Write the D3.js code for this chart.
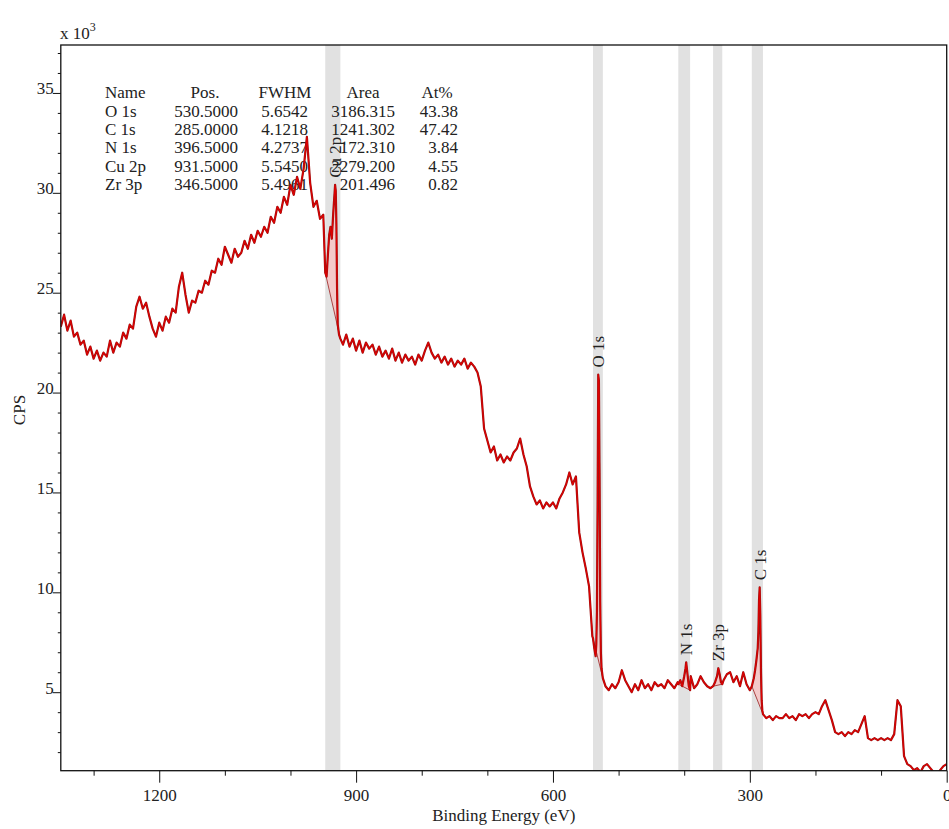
<!DOCTYPE html>
<html lang="en">
<head>
<meta charset="utf-8">
<title>XPS survey</title>
<script src="https://d3js.org/d3.v7.min.js"></script>
<style>
  body { margin: 0; background: #fff; }
  text { font-family: "Liberation Serif", "Times New Roman", serif; fill: #222; }
</style>
</head>
<body>
<script>

// survey spectrum, kCPS, every 5 eV from 1350 eV down to 0 eV
var beStart = 1350, beStep = 5;
var surveyK = [
  23.3, 23.9, 23.1, 23.6, 22.8, 23.0, 22.4, 22.6, 21.9, 22.3,   // 1350
  21.7, 22.1, 21.6, 22.0, 21.8, 22.6, 22.0, 22.5, 22.3, 23.0,   // 1300
  22.7, 23.4, 23.2, 24.3, 24.8, 24.2, 24.5, 23.8, 23.2, 22.8,   // 1250
  23.5, 23.1, 23.8, 23.5, 24.2, 24.0, 25.3, 26.0, 24.9, 24.0,   // 1200
  24.6, 24.5, 25.1, 25.0, 25.6, 25.4, 26.1, 26.0, 26.7, 26.4,   // 1150
  27.3, 26.9, 26.5, 27.2, 26.8, 27.0, 27.6, 27.2, 27.9, 27.5,   // 1100
  28.1, 27.8, 28.3, 28.0, 28.8, 28.5, 29.3, 29.0, 29.8, 29.4,   // 1050
  30.4, 29.9, 30.8, 30.2, 31.2, 32.8, 30.5, 29.3, 29.6, 28.7,   // 1000
  28.9, 25.9, 27.5, 28.8, 31.2, 22.8, 22.4, 22.9, 22.3, 22.7,   // 950
  22.1, 22.6, 22.0, 22.5, 22.2, 22.4, 21.9, 22.3, 21.8, 22.1,   // 900
  21.7, 22.2, 21.6, 22.0, 21.5, 21.9, 21.6, 21.8, 21.4, 21.9,   // 850
  21.6, 22.1, 22.5, 22.0, 21.7, 21.9, 21.5, 21.8, 21.4, 21.7,   // 800
  21.3, 21.6, 21.4, 21.7, 21.2, 21.5, 21.3, 21.0, 20.3, 18.2,   // 750
  17.6, 17.0, 17.3, 16.6, 16.9, 16.5, 16.8, 16.6, 17.0, 17.2,   // 700
  17.7, 16.9, 16.3, 15.3, 14.8, 14.4, 14.6, 14.2, 14.5, 14.3,   // 650
  14.5, 14.2, 14.7, 15.0, 15.4, 16.0, 15.4, 15.8, 13.0, 12.0,   // 600
  11.2, 10.3, 7.8, 6.9, 20.5, 6.0, 5.3, 5.1, 5.4, 5.2,          // 550
  5.5, 6.1, 5.6, 5.3, 5.0, 5.4, 5.1, 5.6, 5.2, 5.4,             // 500
  5.1, 5.5, 5.3, 5.4, 5.2, 5.6, 5.4, 5.2, 5.5, 5.3,             // 450
  5.4, 6.3, 5.8, 5.2, 5.4, 5.8, 5.5, 5.3, 5.2, 5.4,             // 400
  5.7, 6.0, 5.6, 5.9, 6.0, 5.5, 5.8, 5.3, 6.0, 5.4,             // 350
  5.1, 5.4, 5.9, 4.1, 3.8, 3.7, 3.8, 3.6, 3.8, 3.7,             // 300
  3.7, 3.9, 3.7, 3.8, 3.6, 3.9, 3.8, 3.9, 3.7, 3.9,             // 250
  4.0, 3.9, 4.3, 4.6, 4.1, 3.6, 3.0, 2.9, 3.0, 2.8,             // 200
  3.0, 2.9, 3.1, 3.0, 3.4, 3.8, 2.7, 2.6, 2.7, 2.6,             // 150
  2.7, 2.6, 2.7, 2.6, 2.9, 4.6, 4.3, 1.8, 1.4, 1.3,             // 100
  1.1, 1.2, 1.0, 1.3, 1.4, 1.2, 1.0, 0.9, 1.1, 1.3,             // 50
  1.4                                                           // 0
];

// quantified regions
var regionNames = ["Cu 2p", "O 1s", "N 1s", "Zr 3p", "C 1s"];
var regionFrom  = [947, 539, 409, 356, 297];
var regionTo    = [924, 524, 391, 342, 280];

// finer points inside each region [eV, kCPS]
var cu2pPts = [[947,26.0],[945,25.8],[943,26.9],[941,27.9],[939,28.3],[937,27.7],[935,28.9],[933,29.9],[932,30.4],[931,30.1],[930,28.4],[929,25.2],[928,23.4],[926,22.9],[924,22.7]];
var o1sPts  = [[539,7.7],[537,7.2],[535,6.8],[534,7.4],[533,9.0],[532,14.5],[531,20.9],[530,20.6],[529,16.0],[528,9.5],[527,7.0],[526,6.2],[524,5.7]];
var n1sPts  = [[409,5.4],[406,5.6],[403,5.3],[400,5.8],[398,6.2],[397,6.5],[395,5.9],[393,5.3],[391,5.1]];
var zr3pPts = [[356,5.3],[353,5.5],[350,5.8],[348,6.2],[346,5.9],[344,5.5],[342,5.4]];
var c1sPts  = [[297,5.3],[294,5.7],[292,6.1],[290,6.6],[288,7.2],[287,8.0],[286,9.6],[285,10.25],[284,8.8],[283,6.0],[282,4.6],[281,4.1],[280,3.9]];
var regionPts = [cu2pPts, o1sPts, n1sPts, zr3pPts, c1sPts];

// quantification table
var tableHead = ["Name", "Pos.", "FWHM", "Area", "At%"];
var tableName = ["O 1s", "C 1s", "N 1s", "Cu 2p", "Zr 3p"];
var tablePos  = ["530.5000", "285.0000", "396.5000", "931.5000", "346.5000"];
var tableFwhm = ["5.6542", "4.1218", "4.2737", "5.5450", "5.4961"];
var tableArea = ["3186.315", "1241.302", "172.310", "2279.200", "201.496"];
var tableAt   = ["43.38", "47.42", "3.84", "4.55", "0.82"];

var xTicks = d3.range(0, 1350, 100);
var yTicks = d3.range(2, 38, 1);

var W = 949, H = 829;
var box = {left: 60.8, right: 946.7, top: 45, bottom: 770.7};

var x = d3.scaleLinear().domain([1350, 0]).range([box.left, box.right]);
var y = d3.scaleLinear().domain([1.07, 37.4]).range([box.bottom, box.top]);

var svg = d3.select("body").append("svg")
    .attr("width", W).attr("height", H);

svg.append("clipPath").attr("id", "plot")
  .append("rect")
    .attr("x", box.left).attr("y", box.top)
    .attr("width", box.right - box.left).attr("height", box.bottom - box.top);

// merge survey and region points
var pts = surveyK.map(function(k, i){ return {be: beStart - i * beStep, k: k}; });
var regions = regionNames.map(function(n, i){
  return {name: n, from: regionFrom[i], to: regionTo[i],
          pts: regionPts[i].map(function(d){ return {be: d[0], k: d[1]}; })};
});
pts = pts.filter(function(p){
  return !regions.some(function(r){ return p.be <= r.from && p.be >= r.to; });
});
regions.forEach(function(r){ pts = pts.concat(r.pts); });
pts.sort(function(a, b){ return b.be - a.be; });

// grey bands
svg.append("g").selectAll("rect").data(regions).enter().append("rect")
    .attr("x", function(r){ return x(r.from); })
    .attr("y", box.top)
    .attr("width", function(r){ return x(r.to) - x(r.from); })
    .attr("height", box.bottom - box.top)
    .attr("fill", "#e1e1e1");

// table
var colX = [105, 238, 308, 395, 458];
var headX = [105, 205, 285, 363, 437];
var tbl = svg.append("g").attr("font-size", 17);
tableHead.forEach(function(h, i){
  tbl.append("text").attr("x", headX[i]).attr("y", 98)
    .attr("text-anchor", i == 0 ? "start" : "middle").text(h);
});
[tableName, tablePos, tableFwhm, tableArea, tableAt].forEach(function(col, c){
  col.forEach(function(v, r){
    tbl.append("text").attr("x", colX[c]).attr("y", 116.5 + r * 18.4)
      .attr("text-anchor", c == 0 ? "start" : "end").text(v);
  });
});

// peak fills + backgrounds
var plot = svg.append("g").attr("clip-path", "url(#plot)");
regions.forEach(function(r){
  var a = r.pts[0], b = r.pts[r.pts.length - 1];
  var bg = function(be){ return a.k + (b.k - a.k) * (be - a.be) / (b.be - a.be); };
  plot.append("path").datum(r.pts)
    .attr("fill", "#f7c4c4").attr("opacity", 0.85)
    .attr("d", d3.area()
      .x(function(d){ return x(d.be); })
      .y0(function(d){ return y(bg(d.be)); })
      .y1(function(d){ return y(d.k); }));
  plot.append("line")
    .attr("x1", x(a.be)).attr("y1", y(a.k))
    .attr("x2", x(b.be)).attr("y2", y(b.k))
    .attr("stroke", "#9a1f1f").attr("stroke-width", 0.8);
});

// spectrum: dark edge under a bright red core
var line = d3.line().x(function(d){ return x(d.be); }).y(function(d){ return y(d.k); });
plot.append("path").datum(pts)
    .attr("fill", "none")
    .attr("stroke", "#9b1212")
    .attr("stroke-width", 2.2)
    .attr("stroke-linejoin", "round")
    .attr("d", line);
plot.append("path").datum(pts)
    .attr("fill", "none")
    .attr("stroke", "#e00000")
    .attr("stroke-width", 1.1)
    .attr("stroke-linejoin", "round")
    .attr("d", line);

// peak labels
regions.forEach(function(r){
  var top = d3.greatest(r.pts, function(d){ return d.k; });
  var px = x(top.be), py = y(top.k) - 7;
  svg.append("text")
    .attr("transform", "translate(" + px + "," + py + ") rotate(-90)")
    .attr("dy", "0.35em")
    .attr("font-size", 17)
    .text(r.name);
});

// frame
svg.append("rect")
    .attr("x", box.left).attr("y", box.top)
    .attr("width", box.right - box.left).attr("height", box.bottom - box.top)
    .attr("fill", "none").attr("stroke", "#111").attr("stroke-width", 1.3);

// x axis
var xa = svg.append("g")
    .attr("transform", "translate(0," + box.bottom + ")")
    .call(d3.axisBottom(x).tickValues(xTicks).tickSizeOuter(0)
      .tickFormat(function(d){ return d % 300 == 0 ? d : ""; }));
xa.select(".domain").remove();
xa.selectAll(".tick line").attr("y2", function(d){ return d % 300 == 0 ? 12 : 5; }).attr("stroke", "#111");
xa.selectAll(".tick text").attr("y", 30).attr("dy", 0).attr("font-size", 17)
    .attr("font-family", null);

// y axis
var ya = svg.append("g")
    .attr("transform", "translate(" + box.left + ",0)")
    .call(d3.axisLeft(y).tickValues(yTicks).tickSizeOuter(0)
      .tickFormat(function(d){ return d % 5 == 0 ? d : ""; }));
ya.select(".domain").remove();
ya.selectAll(".tick line").attr("x2", function(d){ return d % 5 == 0 ? -8 : -3; }).attr("stroke", "#111");
ya.selectAll(".tick text").attr("x", -7).attr("dy", "0.06em").attr("font-size", 17)
    .attr("font-family", null);

// axis titles
svg.append("text")
    .attr("x", (box.left + box.right) / 2).attr("y", 821)
    .attr("text-anchor", "middle").attr("font-size", 17)
    .text("Binding Energy (eV)");
svg.append("text")
    .attr("transform", "translate(25,410) rotate(-90)")
    .attr("text-anchor", "middle").attr("font-size", 17)
    .text("CPS");
var ex = svg.append("text").attr("x", 60).attr("y", 39).attr("font-size", 17);
ex.append("tspan").text("x 10");
ex.append("tspan").attr("dy", -8).attr("font-size", 12).text("3");

</script>
</body>
</html>
